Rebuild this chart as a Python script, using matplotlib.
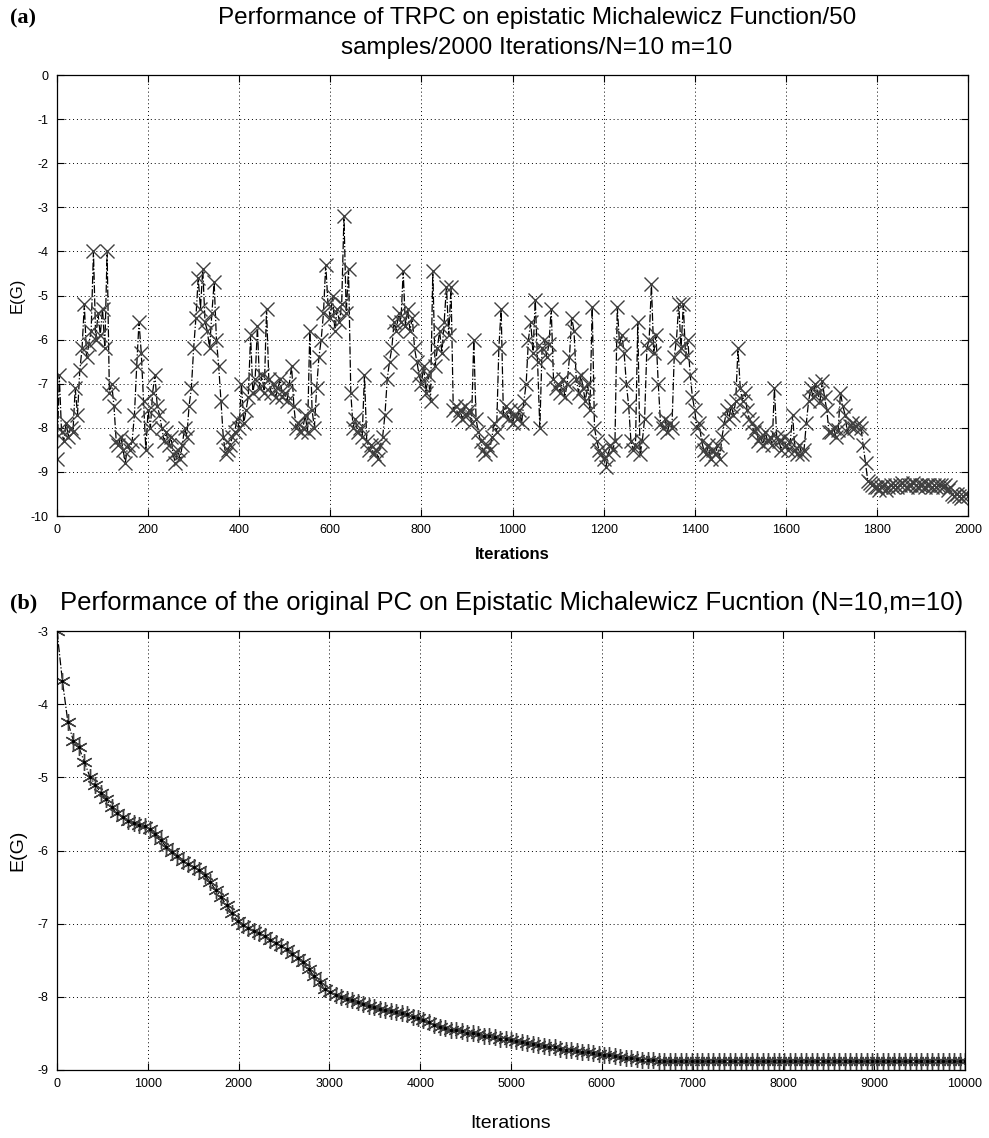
import numpy as np
import matplotlib
matplotlib.use("Agg")
import matplotlib.pyplot as plt

plt.rcParams['font.family'] = ['Liberation Sans', 'DejaVu Sans']
plt.rcParams['axes.unicode_minus'] = False

# ---------------- data: panel (a), TRPC, one value every 5 iterations ----------------
trpc_iter_max = 2000
trpc_values = [
    -8.7, -6.8, -8.1, -8.3, -7.9, -8.2, -8.0, -8.1, -7.1, -7.7, -6.7, -6.2, -5.2, -6.4, -6.1, -5.8, -4.0, -6.0, -5.4, -5.9,
    -5.3, -6.2, -4.0, -7.2, -7.0, -7.5, -8.3, -8.4, -8.2, -8.5, -8.8, -8.4, -8.5, -8.3, -7.7, -6.6, -5.6, -6.3, -7.4, -8.5,
    -7.6, -8.0, -7.2, -6.8, -7.5, -7.7, -8.0, -8.3, -8.1, -8.4, -8.2, -8.6, -8.8, -8.5, -8.7, -8.4, -8.0, -8.2, -7.5, -7.1,
    -6.2, -5.5, -4.6, -5.3, -4.4, -5.6, -5.8, -6.2, -5.4, -4.7, -6.0, -6.6, -7.4, -8.2, -8.6, -8.5, -8.4, -8.2, -8.1, -7.8,
    -8.0, -7.0, -7.9, -7.6, -7.3, -5.9, -7.2, -6.9, -5.7, -7.1, -6.8, -7.2, -5.3, -6.9, -7.2, -7.0, -7.3, -7.1, -6.9, -7.3,
    -7.2, -7.4, -7.0, -6.6, -7.5, -8.0, -7.9, -8.1, -8.0, -7.7, -8.1, -5.8, -7.6, -8.0, -7.1, -6.4, -6.0, -5.4, -4.3, -5.2,
    -5.5, -5.0, -5.8, -5.3, -5.6, -5.2, -3.2, -5.4, -4.4, -7.2, -8.0, -7.8, -8.1, -8.0, -8.2, -6.8, -8.3, -8.5, -8.4, -8.6,
    -8.5, -8.7, -8.4, -8.2, -7.7, -6.9, -6.5, -6.2, -5.6, -5.8, -5.4, -5.6, -4.45, -5.7, -5.3, -5.8, -5.5, -6.2, -6.5, -6.8,
    -7.0, -6.6, -7.2, -6.8, -7.4, -4.45, -6.6, -6.2, -5.8, -6.3, -5.6, -4.8, -5.9, -4.8, -7.6, -7.5, -7.7, -7.6, -7.8, -7.5,
    -7.7, -7.6, -7.9, -6.0, -7.8, -8.1, -8.3, -8.5, -8.6, -8.4, -8.5, -8.2, -7.9, -8.1, -6.2, -5.3, -7.7, -7.5, -7.8, -7.6,
    -7.9, -7.7, -7.8, -7.6, -7.9, -7.4, -7.0, -6.0, -5.6, -6.3, -5.1, -6.5, -8.0, -6.2, -6.0, -6.4, -6.1, -5.3, -6.9, -7.1,
    -7.0, -7.2, -6.9, -7.3, -7.0, -6.4, -5.5, -5.8, -6.9, -7.2, -6.8, -7.1, -7.4, -7.0, -7.6, -5.25, -8.0, -8.3, -8.5, -8.6,
    -8.7, -8.9, -8.6, -8.4, -8.5, -8.3, -5.25, -6.1, -5.9, -6.3, -7.0, -7.5, -8.3, -8.5, -8.4, -5.6, -8.6, -8.3, -7.8, -6.2,
    -6.0, -4.75, -6.3, -5.9, -7.0, -7.9, -8.0, -7.8, -8.1, -7.9, -8.0, -6.4, -6.0, -5.2, -6.2, -5.2, -6.4, -6.0, -6.8, -7.3,
    -7.6, -8.0, -7.9, -8.3, -8.5, -8.6, -8.4, -8.7, -8.5, -8.6, -8.4, -8.7, -8.2, -7.9, -7.6, -7.8, -7.5, -7.7, -7.4, -6.2,
    -7.1, -7.4, -7.2, -7.6, -7.8, -7.9, -8.1, -8.0, -8.3, -8.2, -8.4, -8.1, -8.3, -8.2, -8.4, -7.1, -8.2, -8.3, -8.5, -8.2,
    -8.4, -8.5, -8.3, -7.7, -8.5, -8.6, -8.4, -8.6, -8.5, -7.9, -7.4, -7.1, -7.3, -7.0, -7.2, -7.4, -6.95, -7.3, -7.6, -8.1,
    -8.1, -8.0, -8.2, -8.05, -7.2, -7.5, -7.7, -8.1, -7.95, -7.9, -8.0, -7.95, -7.9, -8.0, -8.4, -8.8, -9.2, -9.25, -9.3, -9.35,
    -9.35, -9.4, -9.35, -9.3, -9.4, -9.35, -9.3, -9.35, -9.3, -9.35, -9.3, -9.25, -9.3, -9.35, -9.3, -9.3, -9.25, -9.3, -9.35, -9.3,
    -9.3, -9.35, -9.3, -9.3, -9.35, -9.3, -9.35, -9.3, -9.3, -9.35, -9.3, -9.4, -9.35, -9.5, -9.55, -9.5, -9.55, -9.6, -9.55, -9.5,
    -9.55,
]

# ---------------- data: panel (b), original PC ----------------
pc_iter_max = 10000
pc_values = [
    -3.00, -3.69, -4.25, -4.50, -4.59, -4.79, -4.99, -5.10, -5.21, -5.30,
    -5.41, -5.49, -5.54, -5.59, -5.62, -5.65, -5.67, -5.71, -5.78, -5.86,
    -5.95, -6.02, -6.08, -6.15, -6.19, -6.22, -6.27, -6.34, -6.43, -6.54,
    -6.64, -6.75, -6.86, -6.96, -7.02, -7.06, -7.10, -7.13, -7.17, -7.22,
    -7.26, -7.31, -7.35, -7.41, -7.47, -7.52, -7.62, -7.72, -7.80, -7.89,
    -7.94, -7.97, -8.00, -8.03, -8.05, -8.07, -8.10, -8.12, -8.14, -8.16,
    -8.18, -8.20, -8.21, -8.22, -8.24, -8.27, -8.29, -8.32, -8.35, -8.38,
    -8.41, -8.43, -8.45, -8.46, -8.47, -8.49, -8.50, -8.51, -8.53, -8.54,
    -8.55, -8.57, -8.58, -8.59, -8.60, -8.62, -8.63, -8.64, -8.66, -8.67,
    -8.68, -8.69, -8.71, -8.72, -8.73, -8.74, -8.75, -8.76, -8.77, -8.78,
    -8.79, -8.80, -8.81, -8.82, -8.83, -8.84, -8.85, -8.86, -8.86, -8.87,
    -8.88, -8.88, -8.88, -8.88, -8.88, -8.88, -8.88, -8.88, -8.88, -8.88,
    -8.88, -8.88, -8.88, -8.88, -8.88, -8.88, -8.88, -8.88, -8.88, -8.88,
    -8.88, -8.88, -8.88, -8.88, -8.88, -8.88, -8.88, -8.88, -8.88, -8.88,
    -8.88, -8.88, -8.88, -8.88, -8.88, -8.88, -8.88, -8.88, -8.88, -8.88,
    -8.88, -8.88, -8.88, -8.88, -8.88, -8.88, -8.88, -8.88, -8.88, -8.88,
    -8.88, -8.88, -8.88, -8.88, -8.88, -8.88, -8.88,
]

trpc_x = np.linspace(0, trpc_iter_max, len(trpc_values))
pc_x = np.linspace(0, pc_iter_max, len(pc_values))

title_a = "Performance of TRPC on epistatic Michalewicz Function/50\nsamples/2000 Iterations/N=10 m=10"
title_b = "Performance of the original PC on Epistatic Michalewicz Fucntion (N=10,m=10)"

W, H = 989, 1138
fig = plt.figure(figsize=(W / 100, H / 100), dpi=100)

def style_axes(ax, labelsize):
    ax.grid(True, linestyle=(0, (1, 3)), color='black', linewidth=0.7)
    ax.tick_params(direction='in', top=True, right=True, length=5, width=0.8,
                   labelsize=labelsize, pad=6)
    for s in ax.spines.values():
        s.set_linewidth(0.9)

# panel (a)
ax1 = fig.add_axes([57 / W, 1 - 516 / H, (968 - 57) / W, (516 - 75) / H])
ax1.plot(trpc_x, trpc_values, linestyle='-.', color='black', linewidth=0.9,
         marker='x', markersize=10, markeredgecolor='#404040', markeredgewidth=1.0)
ax1.set_xlim(0, 2000)
ax1.set_ylim(-10, 0)
ax1.set_xticks(np.arange(0, 2001, 200))
ax1.set_yticks(np.arange(-10, 1, 1))
style_axes(ax1, 9)
ax1.set_xlabel("Iterations", fontsize=12, fontweight='bold', labelpad=8)
ax1.set_ylabel("E(G)", fontsize=12, labelpad=4)
fig.text(537 / W, 1 - 33 / H, title_a, ha='center', va='center', fontsize=17.5, linespacing=1.45)
fig.text(10 / W, 1 - 18 / H, "(a)", ha='left', va='center', fontsize=16, fontweight='bold',
         family=['Liberation Serif', 'DejaVu Serif'])

# panel (b)
ax2 = fig.add_axes([57 / W, 1 - 1070 / H, (965 - 57) / W, (1070 - 631) / H])
ax2.plot(pc_x, pc_values, linestyle='-.', color='black', linewidth=0.9,
         marker=(6, 2, 0), markersize=12, markeredgecolor='#404040', markeredgewidth=1.0)
ax2.plot(pc_x, pc_values, linestyle='none', marker='.', markersize=3, color='black')
ax2.set_xlim(0, 10000)
ax2.set_ylim(-9, -3)
ax2.set_xticks(np.arange(0, 10001, 1000))
ax2.set_yticks(np.arange(-9, -2, 1))
style_axes(ax2, 9)
ax2.set_xlabel("Iterations", fontsize=14, labelpad=18)
ax2.set_ylabel("E(G)", fontsize=14, labelpad=8)
fig.text(60 / W, 1 - 603 / H, title_b, ha='left', va='center', fontsize=18.5)
fig.text(10 / W, 1 - 603 / H, "(b)", ha='left', va='center', fontsize=16, fontweight='bold',
         family=['Liberation Serif', 'DejaVu Serif'])

fig.savefig("out.png", dpi=100, facecolor='white')
